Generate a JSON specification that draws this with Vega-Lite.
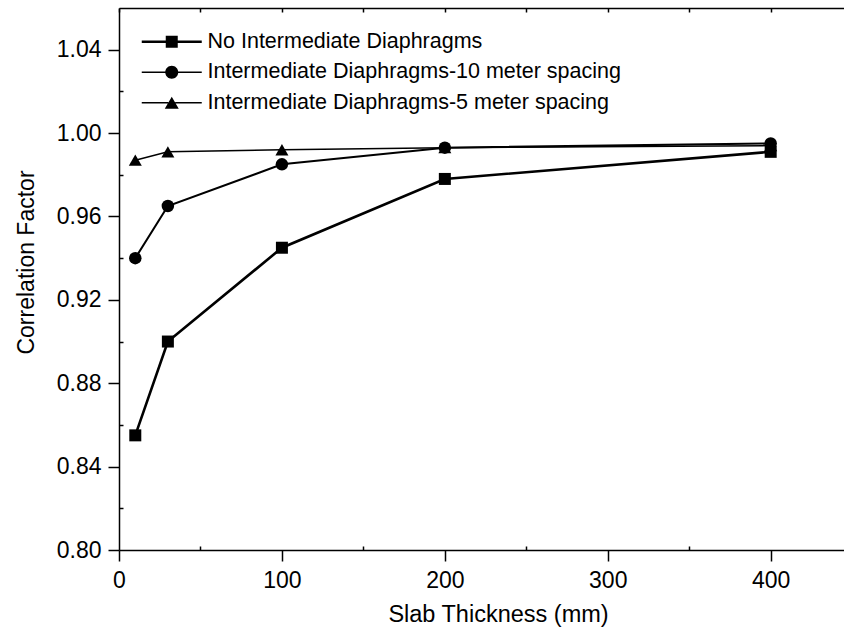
{
  "$schema": "https://vega.github.io/schema/vega-lite/v6.json",
  "width": 725,
  "height": 542,
  "autosize": {"type": "none"},
  "padding": {"left": 119, "top": 8, "right": 0, "bottom": 78},
  "background": "white",
  "config": {
    "view": {"stroke": null},
    "font": "Liberation Sans",
    "axis": {
      "domainColor": "black", "tickColor": "black", "labelColor": "black", "titleColor": "black",
      "grid": false, "labelFont": "Liberation Sans", "titleFont": "Liberation Sans",
      "titleFontWeight": "normal", "domainWidth": 1.5, "tickWidth": 1.5
    }
  },
  "data": {
    "values": [
      {"series": "No Intermediate Diaphragms", "t": 10, "cf": 0.855},
      {"series": "No Intermediate Diaphragms", "t": 30, "cf": 0.900},
      {"series": "No Intermediate Diaphragms", "t": 100, "cf": 0.945},
      {"series": "No Intermediate Diaphragms", "t": 200, "cf": 0.978},
      {"series": "No Intermediate Diaphragms", "t": 400, "cf": 0.991},
      {"series": "Intermediate Diaphragms-10 meter spacing", "t": 10, "cf": 0.940},
      {"series": "Intermediate Diaphragms-10 meter spacing", "t": 30, "cf": 0.965},
      {"series": "Intermediate Diaphragms-10 meter spacing", "t": 100, "cf": 0.985},
      {"series": "Intermediate Diaphragms-10 meter spacing", "t": 200, "cf": 0.993},
      {"series": "Intermediate Diaphragms-10 meter spacing", "t": 400, "cf": 0.995},
      {"series": "Intermediate Diaphragms-5 meter spacing", "t": 10, "cf": 0.987},
      {"series": "Intermediate Diaphragms-5 meter spacing", "t": 30, "cf": 0.991},
      {"series": "Intermediate Diaphragms-5 meter spacing", "t": 100, "cf": 0.992},
      {"series": "Intermediate Diaphragms-5 meter spacing", "t": 200, "cf": 0.993},
      {"series": "Intermediate Diaphragms-5 meter spacing", "t": 400, "cf": 0.994}
    ]
  },
  "layer": [
    {
      "mark": {"type": "line", "color": "black"},
      "encoding": {
        "x": {
          "field": "t", "type": "quantitative",
          "scale": {"domain": [0, 445], "nice": false, "zero": false},
          "axis": {
            "orient": "bottom", "values": [0, 100, 200, 300, 400], "tickSize": 11,
            "labelFontSize": 23, "labelPadding": 8, "labelFlush": false,
            "title": "Slab Thickness (mm)", "titleFontSize": 23.5,
            "titleX": 379, "titleY": 71, "titleAlign": "center", "titleBaseline": "alphabetic"
          }
        },
        "y": {
          "field": "cf", "type": "quantitative",
          "scale": {"domain": [0.8, 1.06], "nice": false, "zero": false},
          "axis": {
            "orient": "left", "values": [0.8, 0.84, 0.88, 0.92, 0.96, 1.0, 1.04], "format": ".2f",
            "tickSize": 11, "labelFontSize": 23, "labelPadding": 7, "labelFlush": false,
            "title": "Correlation Factor", "titleFontSize": 23,
            "titleX": -86, "titleY": 254, "titleAngle": -90, "titleAlign": "center", "titleBaseline": "alphabetic"
          }
        },
        "detail": {"field": "series"},
        "strokeWidth": {
          "field": "series", "type": "nominal",
          "scale": {
            "domain": ["No Intermediate Diaphragms", "Intermediate Diaphragms-10 meter spacing", "Intermediate Diaphragms-5 meter spacing"],
            "range": [2.6, 1.5, 1.5]
          },
          "legend": null
        }
      }
    },
    {
      "mark": {"type": "point", "filled": true, "color": "black", "opacity": 1},
      "encoding": {
        "x": {
          "field": "t", "type": "quantitative",
          "axis": {"orient": "bottom", "values": [50, 150, 250, 350], "tickSize": -4, "labels": false, "domain": false, "title": null}
        },
        "y": {
          "field": "cf", "type": "quantitative",
          "axis": {"orient": "left", "values": [0.82, 0.86, 0.9, 0.94, 0.98, 1.02], "tickSize": -4, "labels": false, "domain": false, "title": null}
        },
        "shape": {
          "field": "series", "type": "nominal",
          "scale": {
            "domain": ["No Intermediate Diaphragms", "Intermediate Diaphragms-10 meter spacing", "Intermediate Diaphragms-5 meter spacing"],
            "range": ["square", "circle", "triangle-up"]
          },
          "legend": null
        },
        "size": {
          "field": "series", "type": "nominal",
          "scale": {
            "domain": ["No Intermediate Diaphragms", "Intermediate Diaphragms-10 meter spacing", "Intermediate Diaphragms-5 meter spacing"],
            "range": [144, 169, 196]
          },
          "legend": null
        }
      }
    },
    {
      "transform": [{"filter": "false"}],
      "mark": {"type": "point", "filled": true, "color": "black", "size": 400},
      "encoding": {
        "x": {
          "field": "t", "type": "quantitative",
          "axis": {"orient": "top", "values": [0, 50, 100, 150, 200, 250, 300, 350, 400], "tickSize": -4, "labels": false, "domain": true, "title": null}
        },
        "y": {"field": "cf", "type": "quantitative", "axis": null},
        "shape": {
          "field": "series", "type": "nominal",
          "scale": {
            "domain": ["No Intermediate Diaphragms", "Intermediate Diaphragms-10 meter spacing", "Intermediate Diaphragms-5 meter spacing"],
            "range": [
              "M-3,-0.13H-0.6V0.13H-3Z M-0.6,-0.6H0.6V0.6H-0.6Z M0.6,-0.13H3V0.13H0.6Z",
              "M-3,-0.08H-0.63V0.08H-3Z M-0.65,0A0.65,0.65,0,1,1,0.65,0A0.65,0.65,0,1,1,-0.65,0Z M0.63,-0.08H3V0.08H0.63Z",
              "M-3,-0.08H-0.35V0.08H-3Z M0,-0.6L0.7,0.6L-0.7,0.6Z M0.35,-0.08H3V0.08H0.35Z"
            ]
          },
          "legend": {
            "orient": "none", "legendX": 42, "legendY": 23, "title": null, "padding": 0,
            "labelFontSize": 21.5, "labelFont": "Liberation Sans", "labelColor": "black",
            "labelLimit": 1000, "labelOffset": 25, "symbolSize": 400,
            "symbolFillColor": "black", "symbolStrokeWidth": 0, "symbolOpacity": 1,
            "rowPadding": 7.5
          }
        }
      }
    }
  ],
  "resolve": {
    "scale": {"shape": "independent", "size": "independent"},
    "axis": {"x": "independent", "y": "independent"}
  }
}
